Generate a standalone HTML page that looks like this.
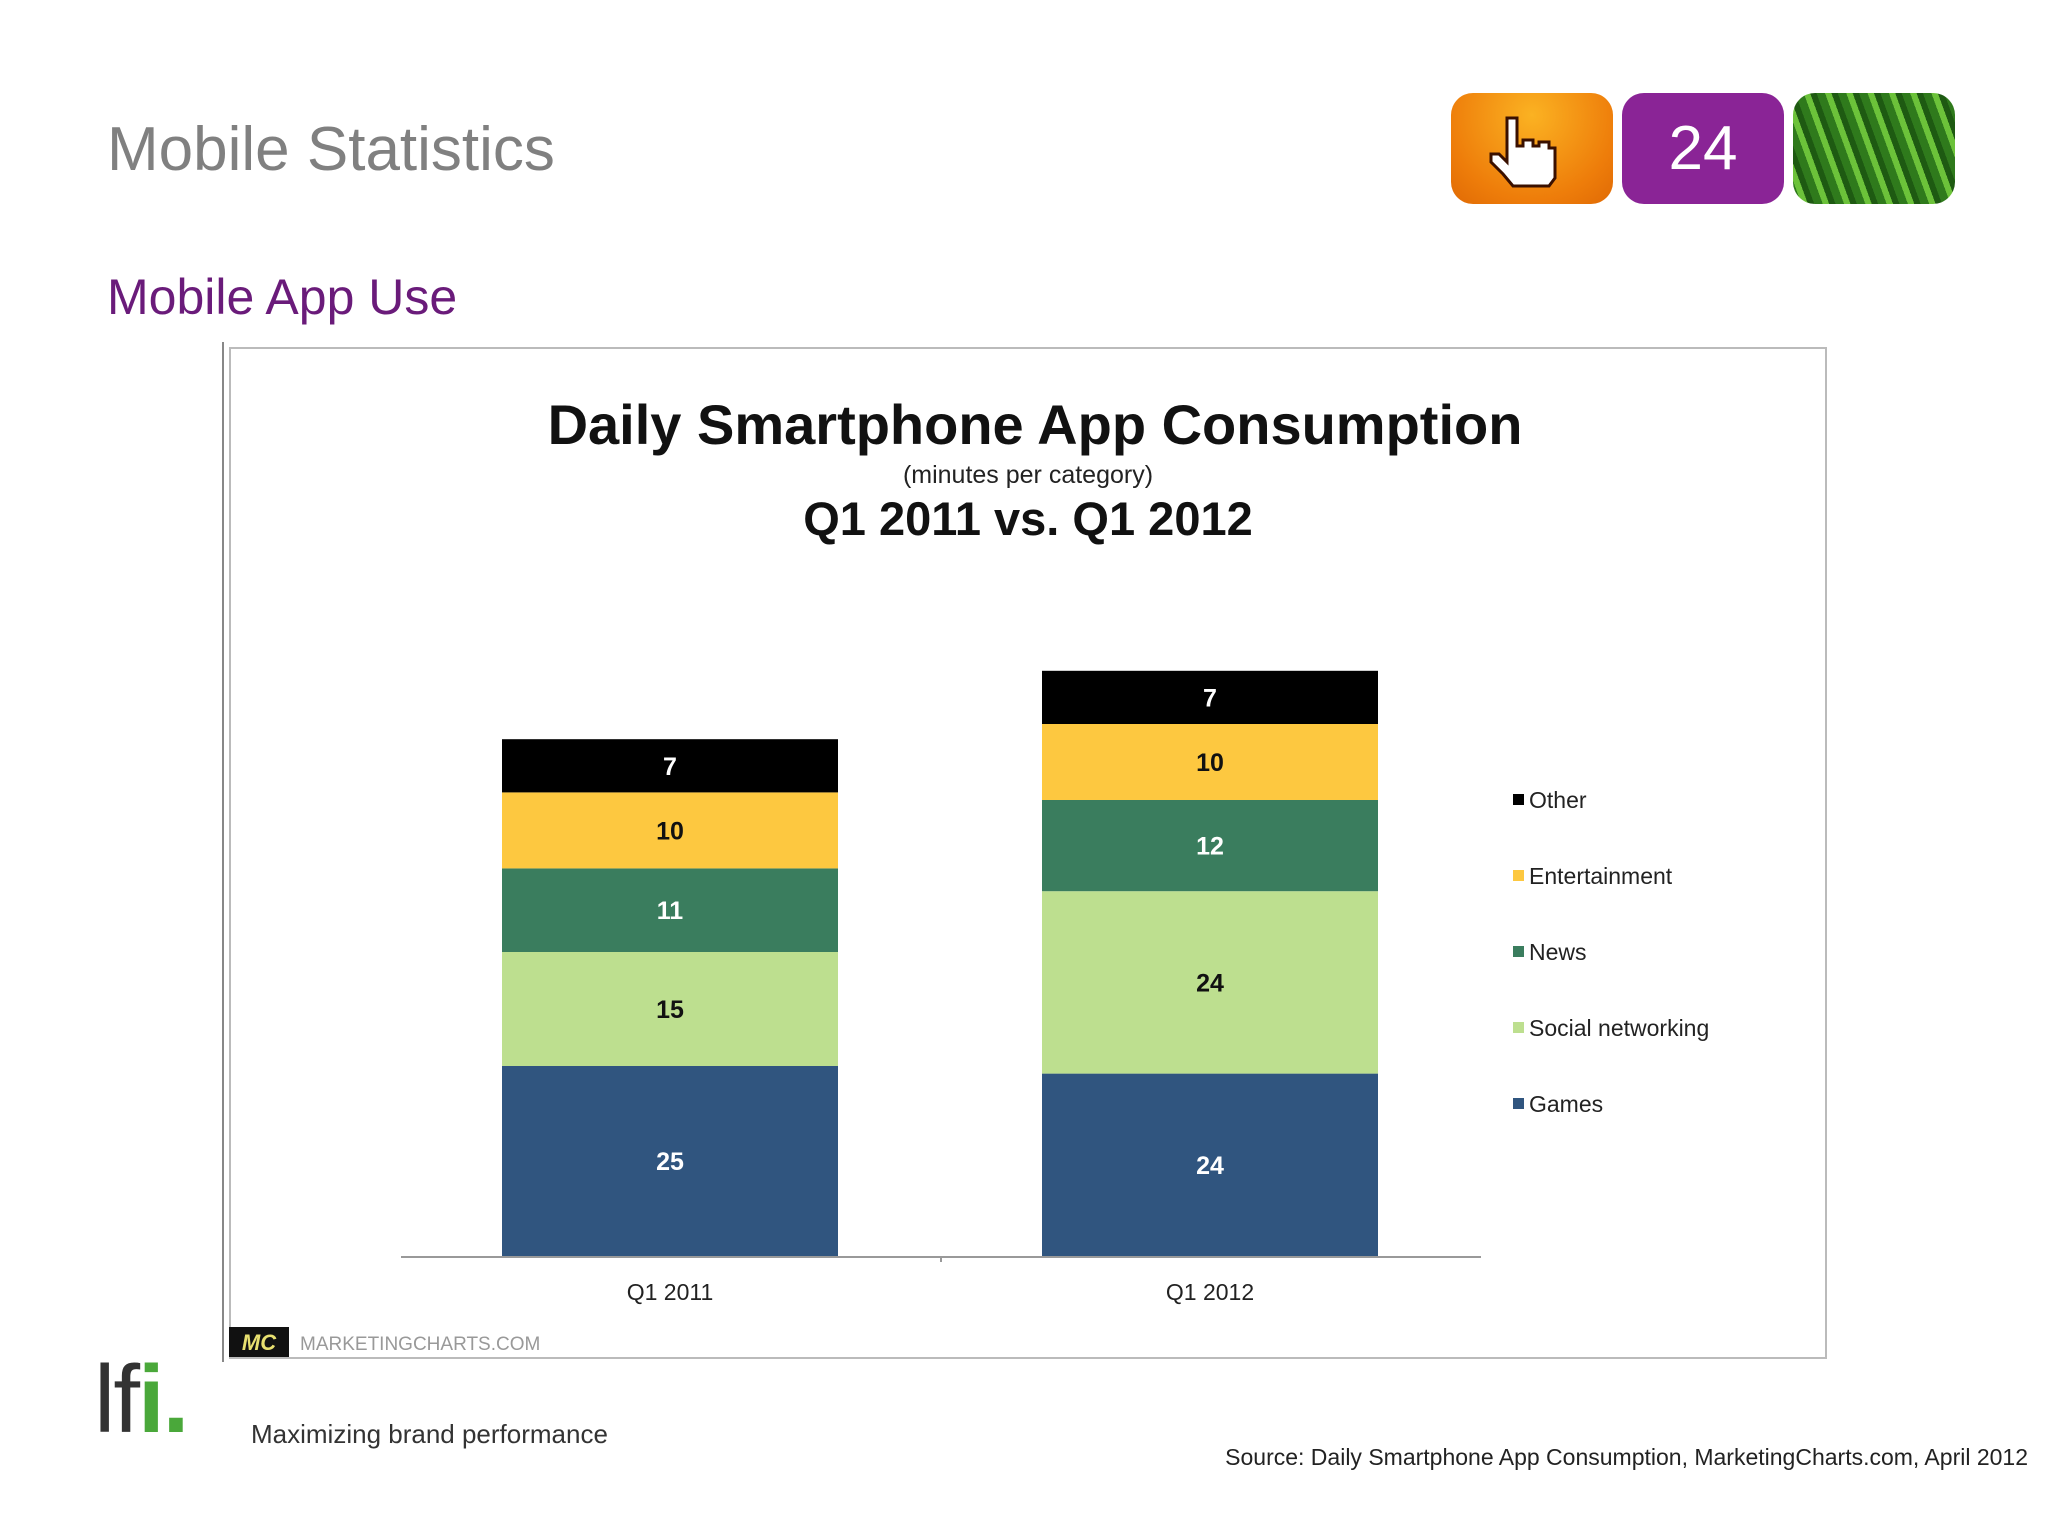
<!DOCTYPE html>
<html><head><meta charset="utf-8"><style>
html,body{margin:0;padding:0;background:#fff;}
body{width:2048px;height:1536px;position:relative;overflow:hidden;font-family:"Liberation Sans",sans-serif;}
.abs{position:absolute;}
</style></head><body>
<div class="abs" style="left:107px;top:114px;font-size:62px;color:#808080;white-space:nowrap;">Mobile Statistics</div>
<div class="abs" style="left:1451px;top:93px;width:162px;height:111px;border-radius:22px;background:radial-gradient(circle at 50% 20%,#fbb222,#ee7d0a 70%,#e06a05);"></div>
<svg class="abs" style="left:1485px;top:110px" width="100" height="80">
<path d="M22 8 h10 v28 h6 v-6 h10 v6 h6 v-4 h10 v6 h6 v30 l-6 8 h-36 l-10 -12 l-12 -12 v-8 h8 l8 8 z" fill="#fff" stroke="#3a1000" stroke-width="3"/>
</svg>
<div class="abs" style="left:1622px;top:93px;width:162px;height:111px;border-radius:22px;background:#8a2496;color:#fff;font-size:62px;text-align:center;line-height:111px;">24</div>
<div class="abs" style="left:1793px;top:93px;width:162px;height:111px;border-radius:22px;background:repeating-linear-gradient(70deg,#2f7a1c 0 8px,#6cc23a 8px 14px,#1e5a12 14px 20px);"></div>
<div class="abs" style="left:107px;top:268px;font-size:50px;color:#6a1b7a;white-space:nowrap;">Mobile App Use</div>
<div class="abs" style="left:222px;top:342px;width:2px;height:1020px;background:#888;"></div>
<div class="abs" style="left:229px;top:347px;width:1594px;height:1008px;border:2px solid #bbb;"></div>
<svg class="abs" style="left:0;top:0" width="2048" height="1536" id="chart">
<text x="1035" y="444" text-anchor="middle" font-size="56" font-weight="bold" fill="#111" font-family="Liberation Sans,sans-serif">Daily Smartphone App Consumption</text>
<text x="1028" y="483" text-anchor="middle" font-size="25" fill="#222" font-family="Liberation Sans,sans-serif">(minutes per category)</text>
<text x="1028" y="535" text-anchor="middle" font-size="47" font-weight="bold" fill="#111" font-family="Liberation Sans,sans-serif">Q1 2011 vs. Q1 2012</text>
<line x1="401" y1="1257" x2="1481" y2="1257" stroke="#999" stroke-width="2"/>
<line x1="941" y1="1257" x2="941" y2="1262" stroke="#999" stroke-width="2"/>
<g id="bars"></g><g id="legend"></g>
<rect x="229" y="1327" width="60" height="30" fill="#111"/>
<text x="259" y="1350" text-anchor="middle" font-size="22" font-weight="bold" font-style="italic" fill="#e8e070" font-family="Liberation Sans,sans-serif">MC</text>
<text x="300" y="1350" font-size="19" fill="#999" font-family="Liberation Sans,sans-serif">MARKETINGCHARTS.COM</text>
</svg>
<div class="abs" style="left:94px;top:1345px;font-size:96px;letter-spacing:-2px;color:#333;">lf<span style="color:#4aa83a;font-weight:bold">i.</span></div>
<div class="abs" style="left:251px;top:1419px;font-size:26px;color:#333;white-space:nowrap;">Maximizing brand performance</div>
<div class="abs" style="right:20px;top:1444px;font-size:23px;color:#222;white-space:nowrap;">Source: Daily Smartphone App Consumption, MarketingCharts.com, April 2012</div>
<script>
const categories = ["Q1 2011","Q1 2012"];
const seriesNames = ["Games","Social networking","News","Entertainment","Other"];
const games = [25,24];
const social = [15,24];
const news = [11,12];
const entertainment = [10,10];
const other = [7,7];
const colors = ["#30557f","#bddf8f","#3a7d5e","#fdc840","#000000"];
const labelColors = ["#fff","#111","#fff","#111","#fff"];
const series = [games,social,news,entertainment,other];
const NS="http://www.w3.org/2000/svg";
const baseY=1256, pxPer=7.6, barW=336;
const xCenter = i => 670 + i*540;
const yScale = v => baseY - v*pxPer;
const bars=document.getElementById('bars');
categories.forEach((c,i)=>{
  let acc=0;
  series.forEach((s,k)=>{
    const y0=yScale(acc), y1=yScale(acc+s[i]);
    const r=document.createElementNS(NS,'rect');
    r.setAttribute('x',xCenter(i)-barW/2);r.setAttribute('y',y1);
    r.setAttribute('width',barW);r.setAttribute('height',y0-y1);
    r.setAttribute('fill',colors[k]);
    
    
    bars.appendChild(r);
    const t=document.createElementNS(NS,'text');
    t.setAttribute('x',xCenter(i));t.setAttribute('y',(y0+y1)/2+9);
    t.setAttribute('text-anchor','middle');t.setAttribute('font-size','25');
    t.setAttribute('font-weight','bold');t.setAttribute('fill',labelColors[k]);
    t.setAttribute('font-family','Liberation Sans,sans-serif');
    t.textContent=s[i];
    
    
    bars.appendChild(t);
    acc+=s[i];
  });
  const l=document.createElementNS(NS,'text');
  l.setAttribute('x',xCenter(i));l.setAttribute('y',1300);
  l.setAttribute('text-anchor','middle');l.setAttribute('font-size','23');
  l.setAttribute('fill','#222');l.setAttribute('font-family','Liberation Sans,sans-serif');
  l.textContent=c;
  
  
  bars.appendChild(l);
});
const leg=document.getElementById('legend');
for(let k=4;k>=0;k--){
  const y=800+(4-k)*76;
  const sq=document.createElementNS(NS,'rect');
  sq.setAttribute('x',1513);sq.setAttribute('y',y-6);sq.setAttribute('width',11);sq.setAttribute('height',11);
  sq.setAttribute('fill',colors[k]);
  
  
  leg.appendChild(sq);
  const t=document.createElementNS(NS,'text');
  t.setAttribute('x',1529);t.setAttribute('y',y+8);t.setAttribute('font-size','23');
  t.setAttribute('fill','#222');t.setAttribute('font-family','Liberation Sans,sans-serif');
  t.textContent=seriesNames[k];
  
  
  leg.appendChild(t);
}
</script>
</body></html>
